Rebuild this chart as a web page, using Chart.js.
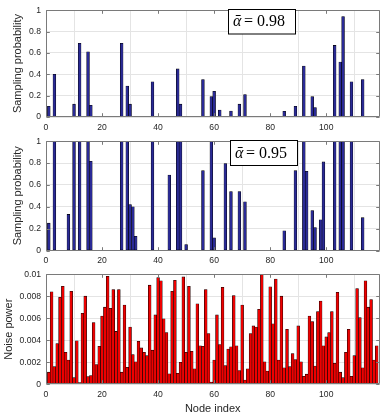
<!DOCTYPE html>
<html><head><meta charset="utf-8">
<script src="https://cdn.jsdelivr.net/npm/chart.js@4/dist/chart.umd.min.js"></script>
<style>
html,body{margin:0;padding:0;background:#fff;}
#wrap{position:relative;width:382px;height:414px;overflow:hidden;background:#fff;}
canvas{position:absolute;left:0;}
</style></head><body>
<div id="wrap">
<canvas id="c1" style="top:0px" width="382" height="136"></canvas>
<canvas id="c2" style="top:131px" width="382" height="136"></canvas>
<canvas id="c3" style="top:264px" width="382" height="150"></canvas>
</div>
<script>
// ---------- DATA ----------
const nodes = [
  1,2,3,4,5,6,7,8,9,10, 11,12,13,14,15,16,17,18,19,20,
  21,22,23,24,25,26,27,28,29,30, 31,32,33,34,35,36,37,38,39,40,
  41,42,43,44,45,46,47,48,49,50, 51,52,53,54,55,56,57,58,59,60,
  61,62,63,64,65,66,67,68,69,70, 71,72,73,74,75,76,77,78,79,80,
  81,82,83,84,85,86,87,88,89,90, 91,92,93,94,95,96,97,98,99,100,
  101,102,103,104,105,106,107,108,109,110, 111,112,113,114,115,116,117,118
];
// Sampling probability, alpha-bar = 0.98
const probAlpha098 = [
  0.10,0,0.40,0,0,0,0,0,0,0.12,
  0,0.69,0,0,0.61,0.11,0,0,0,0,
  0,0,0,0,0,0,0.69,0,0.29,0.12,
  0,0,0,0,0,0,0,0.33,0,0,
  0,0,0,0,0,0,0.45,0.12,0,0,
  0,0,0,0,0,0.35,0,0,0.19,0.24,
  0,0.065,0,0,0,0.056,0,0,0.12,0,
  0.21,0,0,0,0,0,0,0,0,0,
  0,0,0,0,0.053,0,0,0,0.10,0,
  0,0.476,0,0,0.19,0.088,0,0,0,0,
  0,0,0.67,0,0.515,0.94,0,0,0.33,0,
  0,0,0.35,0,0,0,0,0
];
// Sampling probability, alpha-bar = 0.95
const probAlpha095 = [
  0.25,0,1,0,0,0,0,0.33,0,1,
  0,1,0,0,1,0.815,0,0,0,0,
  0,0,0,0,0,0,1,0,1,0.42,
  0.40,0.13,0,0,0,0,0,1,0,0,
  0,0,0,0.69,0,0,1,1,0,0.055,
  0,0,0,0,0,0.73,0,0,1,0.115,
  0,0,0,0.795,0,0.54,0,0,0.54,0,
  0.445,0,0,0,0,0,0,0,0,0,
  0,0,0,0,0.18,0,0,0,0.73,0,
  0,1,0.725,0,0.365,0.21,0,0.28,0.81,0,
  0,0,1,0,1,1,0,0,1,0,
  0,0,0.30,0,0,0,0,0
];
// Noise power per node
const noisePower = [
  0.0011,0.0084,0.0016,0.0037,0.0079,0.0089,0.0029,0.0022,0.00845,0.0006,
  0.00395,0.00015,0.00645,0.0080,0.0007,0.0008,0.0056,0.0018,0.00345,0.0062,
  0.0070,0.0098,0.0069,0.0086,0.0048,0.0086,0.0011,0.0072,0.00155,0.0052,
  0.0027,0.00205,0.0039,0.0033,0.0029,0.0026,0.0090,0.0031,0.0063,0.0097,
  0.0094,0.00595,0.0047,0.00095,0.00845,0.00945,0.0010,0.0020,0.00975,0.0029,
  0.0089,0.0030,0.0014,0.0073,0.0035,0.00345,0.0086,0.0046,0.0002,0.0022,
  0.0063,0.0036,0.0088,0.0017,0.0032,0.0034,0.00805,0.0035,0.00125,0.0072,
  0.00038,0.0014,0.0046,0.0053,0.0052,0.0068,0.0100,0.00205,0.0012,0.00885,
  0.0055,0.00955,0.0022,0.0080,0.0015,0.0050,0.0016,0.0028,0.00225,0.0053,
  0.00205,0.00073,0.00092,0.0062,0.0057,0.00165,0.0066,0.00755,0.0035,0.0043,
  0.0047,0.0066,0.0019,0.00835,0.0011,0.0006,0.0029,0.0050,0.00073,0.0026,
  0.0087,0.00605,0.0015,0.0094,0.0070,0.0077,0.0022,0.0035
];
const xTickValues = [0,20,40,60,80,100];
const xTickLabels = ['0','20','40','60','80','100'];
const probTickValues = [0,0.2,0.4,0.6,0.8,1];
const probTickLabels = ['0','0.2','0.4','0.6','0.8','1'];
const noiseTickValues = [0,0.002,0.004,0.006,0.008,0.01];
const noiseTickLabels = ['0','0.002','0.004','0.006','0.008','0.01'];
const annotAlpha = ['0.98','0.95'];
const yLabelProb = 'Sampling probability';
const yLabelNoise = 'Noise power';
const xLabel = 'Node index';

// ---------- STYLE ----------
const SANS = "'Liberation Sans', Arial, Helvetica, sans-serif";
const SERIF = "'Liberation Serif', 'DejaVu Serif', serif";
const TEXT = '#262626';
const FRAME = '#7a7a7a';
const GRID = '#e4e4e4';
const TICKFONT = {family:SANS, size:8.6};

function framePlugin(annot){
  return {
    id:'frame',
    afterDatasetsDraw(chart){
      const {ctx, chartArea:a, scales:{x,y}} = chart;
      const L = Math.round(a.left)+0.5, R = Math.round(a.right)-0.5;
      const T = Math.round(a.top)+0.5, B = Math.round(a.bottom)-0.5;
      ctx.save();
      ctx.strokeStyle = FRAME; ctx.lineWidth = 1;
      ctx.beginPath();
      ctx.moveTo(L,T); ctx.lineTo(R,T); ctx.lineTo(R,B); ctx.lineTo(L,B); ctx.closePath();
      const tl = 3.3;
      x.ticks.forEach(t=>{
        const px = Math.round(x.getPixelForValue(t.value))+0.5;
        ctx.moveTo(px,B); ctx.lineTo(px,B-tl);
        ctx.moveTo(px,T); ctx.lineTo(px,T+tl);
      });
      y.ticks.forEach(t=>{
        const py = Math.round(y.getPixelForValue(t.value))+0.5;
        ctx.moveTo(L,py); ctx.lineTo(L+tl,py);
        ctx.moveTo(R,py); ctx.lineTo(R-tl,py);
      });
      ctx.stroke();
      if (annot){
        const b = annot.box;
        ctx.fillStyle = '#fff';
        ctx.fillRect(b.x,b.y,b.w,b.h);
        ctx.strokeStyle = '#000'; ctx.lineWidth = 1;
        ctx.strokeRect(b.x,b.y,b.w,b.h);
        ctx.fillStyle = '#000';
        ctx.textBaseline = 'alphabetic'; ctx.textAlign = 'left';
        ctx.font = "italic 16px " + SERIF;
        ctx.fillText('ᾱ', b.x+4.5, annot.base);
        ctx.font = "16px " + SERIF;
        ctx.fillText('=', b.x+15.5, annot.base);
        ctx.fillText(annot.text, b.x+28.5, annot.base);
      }
      ctx.restore();
    }
  };
}

function makePanel(id, p){
  const data = nodes.map((n,i)=>({x:n, y:p.values[i]}));
  new Chart(document.getElementById(id), {
    type:'bar',
    data:{datasets:[{
      data, backgroundColor:p.color, borderColor:'#000', borderWidth:0.55,
      borderSkipped:false, barPercentage:1.0, categoryPercentage:1
    }]},
    options:{
      responsive:false, animation:false, devicePixelRatio:1,
      layout:{padding:{top:p.padTop, right:2.5, left:0, bottom:0}},
      plugins:{legend:{display:false}, tooltip:{enabled:false}},
      scales:{
        x:{
          type:'linear', min:0, max:119, offset:false,
          afterBuildTicks:s=>{ s.ticks = xTickValues.map(v=>({value:v})); },
          afterFit:s=>{ s.height = p.xHeight; },
          grid:{color:GRID, drawTicks:false, lineWidth:1},
          border:{display:false},
          ticks:{font:TICKFONT, color:TEXT, padding:5, maxRotation:0, autoSkip:false,
                 callback:(v,i)=>xTickLabels[i]},
          title:{display:!!p.xTitle, text:xLabel, font:{family:SANS,size:11,lineHeight:0.92}, color:TEXT, padding:{top:0,bottom:0}}
        },
        y:{
          min:0, max:p.ymax,
          afterBuildTicks:s=>{ s.ticks = p.tickValues.map(v=>({value:v})); },
          afterFit:s=>{ s.width = 46; },
          grid:{color:GRID, drawTicks:false, lineWidth:1},
          border:{display:false},
          ticks:{font:TICKFONT, color:TEXT, padding:5, callback:(v,i)=>p.tickLabels[i]},
          title:{display:true, text:p.ylabel, font:{family:SANS,size:11}, color:TEXT, padding:{top:p.ytitlePad,bottom:0}}
        }
      }
    },
    plugins:[framePlugin(p.annot)]
  });
}

makePanel('c1', {values:probAlpha098, color:'#2a2a96', ymax:1, tickValues:probTickValues, tickLabels:probTickLabels,
  ylabel:yLabelProb, ytitlePad:11.4, padTop:5, xHeight:19,
  annot:{box:{x:228.5,y:9.5,w:67,h:24.5}, base:26, text:annotAlpha[0]}});
makePanel('c2', {values:probAlpha095, color:'#2a2a96', ymax:1, tickValues:probTickValues, tickLabels:probTickLabels,
  ylabel:yLabelProb, ytitlePad:11.4, padTop:6.5, xHeight:16.5,
  annot:{box:{x:230.5,y:9.5,w:67,h:25}, base:26.5, text:annotAlpha[1]}});
makePanel('c3', {values:noisePower, color:'#ee0000', ymax:0.01, tickValues:noiseTickValues, tickLabels:noiseTickLabels,
  ylabel:yLabelNoise, ytitlePad:2.6, padTop:6.7, xHeight:29.7, xTitle:true, annot:null});
</script>
</body></html>
